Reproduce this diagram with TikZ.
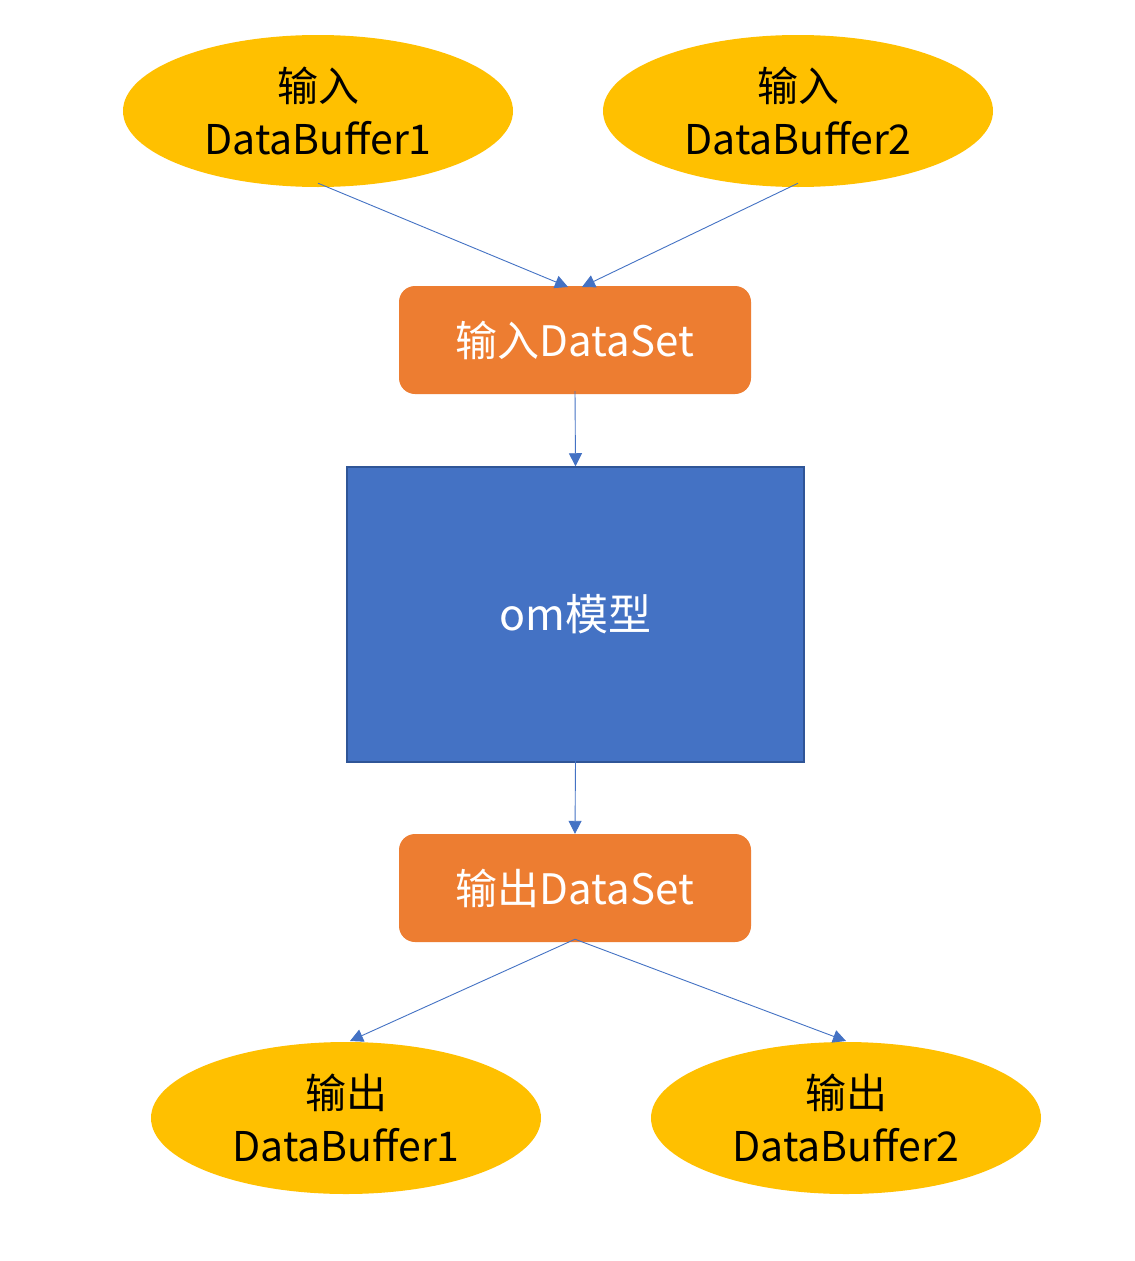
\documentclass[tikz,border=0pt]{standalone}
\usepackage{fontspec}
\setmainfont{Noto Sans CJK SC}
\usetikzlibrary{arrows.meta,shapes.geometric}
\definecolor{gold}{HTML}{FFC000}
\definecolor{orangebox}{HTML}{ED7D31}
\definecolor{bluebox}{HTML}{4472C4}
\definecolor{blueborder}{HTML}{2F5597}
\definecolor{arrowblue}{HTML}{4472C4}
\begin{document}
\begin{tikzpicture}[x=1pt,y=-1pt,
  buf/.style={ellipse,fill=gold,draw=none,minimum width=390pt,minimum height=152pt,inner sep=0pt,align=center,font=\fontsize{41}{53}\selectfont,text=black},
  setbox/.style={rounded corners=16pt,fill=orangebox,draw=none,minimum width=352pt,minimum height=108pt,inner sep=0pt,font=\fontsize{42}{46}\selectfont,text=white},
  modelbox/.style={fill=bluebox,draw=blueborder,line width=1.5pt,minimum width=457pt,minimum height=295pt,inner sep=0pt,font=\fontsize{43}{46}\selectfont,text=white},
  conn/.style={draw=arrowblue,line width=0.9pt,-{Triangle[length=13pt,width=13pt]}}]
\useasboundingbox (0,0) rectangle (1135,1261);
\fill[white] (0,0) rectangle (1135,1261);
\node[buf] (in1) at (318,111) {输入\\DataBuffer1};
\node[buf] (in2) at (798,111) {输入\\DataBuffer2};
\node[setbox] (ids) at (575,340) {输入DataSet};
\node[modelbox] (om) at (575.5,614.5) {om模型};
\node[setbox] (ods) at (575,888) {输出DataSet};
\node[buf] (out1) at (346,1118) {输出\\DataBuffer1};
\node[buf] (out2) at (846,1118) {输出\\DataBuffer2};
\coordinate (a1) at (568,287);
\coordinate (a2) at (582,287);
\coordinate (b1) at (350,1041);
\coordinate (b2) at (846,1041);
\draw[conn] ([yshift=4pt]in1.south) -- (a1);
\draw[conn] ([yshift=4pt]in2.south) -- (a2);
\draw[conn] ([yshift=3pt]ids.south) -- (om.north);
\draw[conn] ([yshift=2pt]om.south) -- (ods.north);
\draw[conn] ([yshift=3pt]ods.south) -- (b1);
\draw[conn] ([yshift=3pt]ods.south) -- (b2);
\end{tikzpicture}
\end{document}
